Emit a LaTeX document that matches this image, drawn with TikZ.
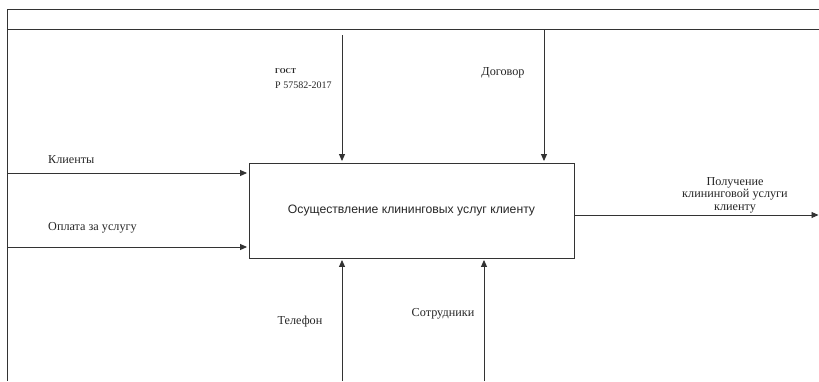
\documentclass[tikz,border=0pt]{standalone}
\usepackage{fontspec}
\setmainfont{Liberation Serif}
\newfontfamily\boxfont{Liberation Sans}
\usetikzlibrary{arrows.meta}

\begin{document}
\begin{tikzpicture}[x=1pt,y=-1pt,
    line/.style={draw=black!80, line width=0.9pt},
    flow/.style={line, -{Triangle[length=7pt,width=6pt]}, shorten >=1.5pt},
    lbl/.style={text=black!85, inner sep=0pt, font=\fontsize{12.2}{12.6}\selectfont},
    small/.style={lbl, font=\fontsize{10}{11}\selectfont}]
    \useasboundingbox (0,0) rectangle (819,381);

    % Coordinates of the frame and of the arrow ends
    \coordinate (frameTL) at (7,9);
    \coordinate (frameTR) at (819,9);
    \coordinate (frameBL) at (7,381);
    \coordinate (headL) at (7,29);
    \coordinate (headR) at (819,29);
    \coordinate (gostTop) at (342,35);
    \coordinate (dogTop) at (544,29);
    \coordinate (klIn) at (7,173);
    \coordinate (oplIn) at (7,247);
    \coordinate (outEnd) at (820,215);
    \coordinate (telBot) at (342,381);
    \coordinate (sotrBot) at (484,381);

    % The frame
    \draw[line] (frameTR) -- (frameTL) -- (frameBL);
    \draw[line] (headL) -- (headR);

    % The process
    \node[line, minimum width=325pt, minimum height=95pt, inner sep=0pt,
        text=black!85, font=\boxfont\fontsize{12.2}{14}\selectfont]
        (proc) at (411.5,210.5) {Осуществление клининговых услуг клиенту};

    % Arrows
    \draw[flow] (gostTop) -- (gostTop |- proc.north);
    \draw[flow] (dogTop) -- (dogTop |- proc.north);
    \draw[flow] (klIn) -- (klIn -| proc.west);
    \draw[flow] (oplIn) -- (oplIn -| proc.west);
    \draw[flow] (outEnd -| proc.east) -- (outEnd);
    \draw[flow] (telBot) -- (telBot |- proc.south);
    \draw[flow] (sotrBot) -- (sotrBot |- proc.south);

    % Labels
    \node[small, anchor=west, font=\bfseries\fontsize{7.5}{8}\selectfont] (gost) at (275,71) {ГОСТ};
    \node[small, anchor=west] (gostNum) at (275,85) {Р 57582-2017};
    \node[lbl] (dogovor) at (503,73) {Договор};
    \node[lbl, anchor=west] (klienty) at (48,160) {Клиенты};
    \node[lbl, anchor=west] (oplata) at (48,228) {Оплата за услугу};
    \node[lbl, align=center] (result) at (735,195) {Получение\\клининговой услуги\\клиенту};
    \node[lbl] (telefon) at (300,322) {Телефон};
    \node[lbl] (sotr) at (443,314) {Сотрудники};
\end{tikzpicture}
\end{document}
